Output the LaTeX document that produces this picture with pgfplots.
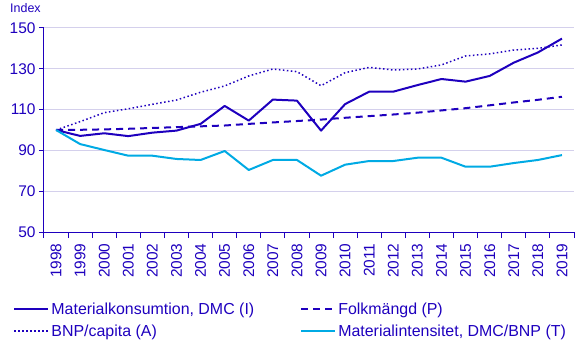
\documentclass[border=0pt]{standalone}
\usepackage{pgfplots}
\pgfplotsset{compat=1.18}
\usepackage{fontspec}
\setmainfont{Liberation Sans}
\definecolor{scbdark}{RGB}{30,0,190}
\definecolor{scblight}{RGB}{0,170,228}
\definecolor{gridc}{RGB}{212,208,236}
\begin{document}
\begin{tikzpicture}
\useasboundingbox (-44bp,-123bp) rectangle (531bp,232bp);
\begin{axis}[
  scale only axis,
  width=530bp, height=204bp,
  xmin=-0.5, xmax=21.5,
  ymin=50, ymax=150,
  ytick={50,70,90,110,130,150},
  xtick={0,...,21},
  xticklabels={1998,1999,2000,2001,2002,2003,2004,2005,2006,2007,2008,2009,2010,2011,2012,2013,2014,2015,2016,2017,2018,2019},
  minor xtick={-0.5,0.5,...,21.5},
  major x tick style={draw=none},
  minor x tick style={draw=scbdark, line width=1bp},
  minor tick length=6bp,
  major tick length=5bp,
  ytick style={draw=scbdark, line width=1bp},
  tick align=outside,
  xtick pos=bottom, ytick pos=left,
  axis x line*=bottom, axis y line*=left,
  axis line style={draw=scbdark, line width=1bp, -},
  ymajorgrids,
  grid style={draw=gridc, line width=1bp},
  /pgf/number format/assume math mode=true,
  tick label style={font=\fontsize{15.5}{18}\selectfont, text=scbdark},
  xticklabel style={rotate=90, anchor=east, xshift=-3bp},
  every axis plot/.append style={line width=2bp, line join=round},
  legend columns=2,
  legend cell align=left,
  legend style={draw=none, fill=none, at={(-0.058,-0.335)}, anchor=north west,
    font=\fontsize{16}{19}\selectfont, text=scbdark, inner sep=0pt,
    row sep=5bp,
    /tikz/every even column/.append style={column sep=44bp}},
  legend image code/.code={\draw[#1] (0bp,0bp) -- (34bp,0bp);},
]
\addplot[scbdark] coordinates {
(0,100) (1,97.1) (2,98.4) (3,97.0) (4,98.7) (5,99.7) (6,103.0) (7,111.8) (8,104.6) (9,114.9) (10,114.4)
(11,99.7) (12,112.7) (13,118.8) (14,118.8) (15,122.0) (16,125.0) (17,123.7) (18,126.5) (19,133.0) (20,138.0) (21,144.8)};
\addlegendentry{Materialkonsumtion, DMC (I)}
\addplot[scbdark, dash pattern=on 7bp off 5bp] coordinates {
(0,100) (1,100.1) (2,100.3) (3,100.6) (4,101.0) (5,101.4) (6,101.8) (7,102.2) (8,103.0) (9,103.7) (10,104.4)
(11,105.1) (12,106.0) (13,106.8) (14,107.6) (15,108.5) (16,109.6) (17,110.7) (18,112.1) (19,113.5) (20,114.8) (21,116.3)};
\addlegendentry{Folkmängd (P)}
\addplot[scbdark, line width=1.5bp, dash pattern=on 1.5bp off 2.5bp] coordinates {
(0,100) (1,104.1) (2,108.5) (3,110.4) (4,112.6) (5,114.7) (6,118.5) (7,121.6) (8,126.5) (9,129.9) (10,128.6)
(11,121.7) (12,128.1) (13,130.7) (14,129.4) (15,129.9) (16,131.9) (17,136.3) (18,137.3) (19,139.2) (20,140.0) (21,141.7)};
\addlegendentry{BNP/capita (A)}
\addplot[scblight] coordinates {
(0,100) (1,93.1) (2,90.2) (3,87.4) (4,87.4) (5,85.8) (6,85.3) (7,89.7) (8,80.4) (9,85.3) (10,85.3)
(11,77.6) (12,83.0) (13,84.8) (14,84.8) (15,86.4) (16,86.4) (17,82.0) (18,82.0) (19,83.8) (20,85.3) (21,87.7)};
\addlegendentry{Materialintensitet, DMC/BNP (T)}
\end{axis}
\node[anchor=west, inner sep=0pt, text=scbdark, font=\fontsize{12.5}{15}\selectfont] at (-34bp,224bp) {Index};
\end{tikzpicture}
\end{document}
